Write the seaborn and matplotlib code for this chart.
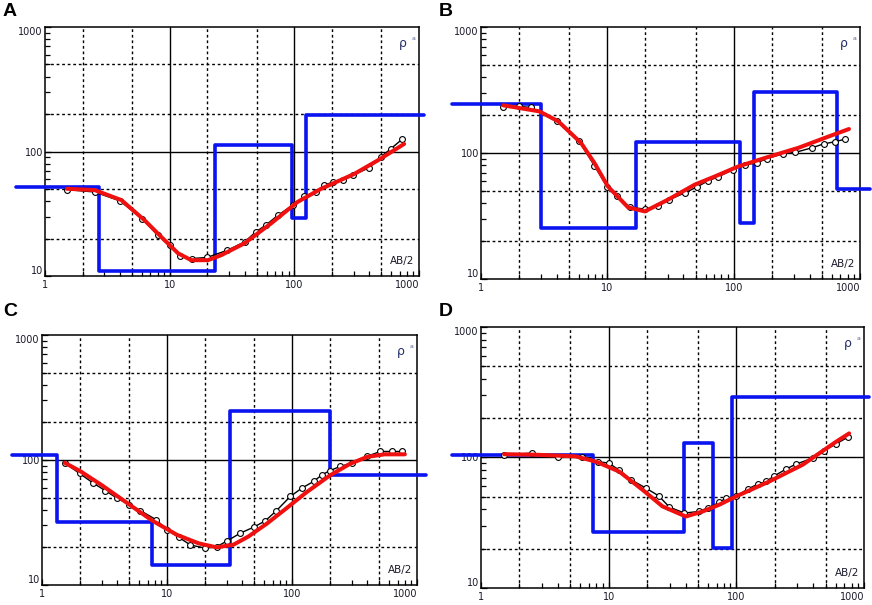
import numpy as np
import pandas as pd
import matplotlib
matplotlib.use("Agg")
import matplotlib.pyplot as plt
import seaborn as sns
from matplotlib.ticker import LogLocator, NullFormatter

# panel A
a_obs_x = [1.5, 2.5, 4, 6, 8, 10, 12, 15, 20, 29, 40, 49, 59, 74, 97, 120, 149,
           174, 203, 244, 293, 398, 493, 593, 736]
a_obs_y = [49.4, 47.3, 40.1, 28.9, 21.3, 17.7, 14.4, 13.8, 14.1, 16.1, 18.8, 22.6,
           25.6, 30.8, 37, 43.6, 47.3, 53.5, 56.9, 58.6, 64.3, 74, 90.2, 105, 126]
a_fit_x = [1.5, 2.5, 4.1, 6.3, 9.1, 11.7, 14.9, 20.3, 25.9, 39.8, 64.9, 106, 163,
           302, 464, 760]
a_fit_y = [50.2, 49, 40.7, 28, 19.4, 15.2, 13.4, 13.4, 14.7, 18.3, 26.4, 39.3, 50,
           66, 84.5, 115]
a_layer_x = [0.59, 2.7, 23, 95, 124, 1100]
a_layer_rho = [52, 11, 112, 29, 196]

# panel B
b_obs_x = [1.5, 2.0, 2.5, 4.0, 6.0, 7.9, 10, 12, 15, 20, 25, 31, 41, 51, 63, 75,
           99, 123, 152, 183, 248, 307, 416, 515, 637, 765]
b_obs_y = [230, 234, 230, 178, 124, 79.3, 53.7, 45.8, 37, 35.9, 37.7, 42.7, 48.2,
           53.7, 60.3, 64.5, 73.8, 80.8, 83.3, 90.2, 98.9, 101, 110, 118, 123, 129]
b_fit_x = [1.5, 2.9, 4.1, 6.2, 7.9, 10.1, 14.6, 19.8, 30.3, 49.2, 71.3, 109, 176,
           326, 562, 818]
b_fit_y = [239, 214, 178, 120, 83.4, 54.3, 37, 34.4, 42.7, 56.1, 65.3, 78.3, 91.2,
           110, 135, 155]
b_layer_x = [0.59, 2.96, 16.8, 112, 145, 657, 1200]
b_layer_rho = [245, 25.4, 122, 27.8, 305, 51.8]

# panel C
c_obs_x = [1.52, 2.0, 2.56, 3.2, 3.98, 5, 6.12, 8.22, 10, 12.4, 15.4, 20.3, 25.1,
           30.2, 38.6, 49.3, 61.2, 75, 97, 120, 149, 174, 200, 244, 302, 398, 509,
           631, 759]
c_obs_y = [94.6, 78, 65.5, 57, 49.5, 44, 39.4, 33.2, 27.6, 24.1, 20.9, 19.7, 20.3,
           22.5, 26, 29, 32.6, 39.3, 51.1, 59.6, 67.4, 76.2, 82, 89, 94.6, 107, 117,
           117, 117]
c_fit_x = [1.52, 2.0, 3.0, 5.0, 7.6, 12, 18, 25, 34, 45, 63, 90, 130, 200, 290,
           400, 550, 800]
c_fit_y = [95, 82, 63, 44, 32.8, 25.2, 21.5, 20, 21, 24.5, 31, 41, 55, 75, 93, 106,
           111, 111]
c_layer_x = [0.575, 1.32, 7.59, 32.1, 200, 1180]
c_layer_rho = [109, 31.8, 14.5, 245, 75.3]

# panel D
d_obs_x = [1.52, 2.49, 3.98, 6.2, 8.2, 10, 12, 15, 19.6, 24.6, 29.9, 39.2, 50.7,
           59.6, 73.6, 83, 99.4, 123, 147, 171, 199, 245, 293, 396, 489, 604, 745]
d_obs_y = [105, 108, 100, 101, 93, 90.6, 80.5, 67.5, 58.2, 50.9, 41.7, 37.5, 38.6,
           41, 45.3, 48.9, 50.3, 57.3, 62.5, 65.5, 72.4, 81.5, 88.9, 98.9, 113, 127,
           143]
d_fit_x = [1.52, 2.7, 5.5, 7.95, 12.1, 18.4, 26.4, 40.2, 54.5, 73.6, 99.4, 181,
           330, 604, 765]
d_fit_y = [106, 105, 102, 93, 78, 56.6, 42.2, 35.3, 38.6, 43.5, 50.3, 65.5, 87.9,
           132, 153]
d_layer_x = [0.59, 7.59, 39.2, 65.3, 91.9, 1100]
d_layer_rho = [105, 26.8, 129, 20.2, 290]

x_ticks = [1, 10, 100, 1000]
y_ticks = [10, 100, 1000]

sns.set_theme(style="white")
plt.rcParams["font.family"] = ["DejaVu Sans"]

W, H = 872, 605
fig = plt.figure(figsize=(W / 100, H / 100), dpi=100)


def px_axes(left, top, right, bottom):
    return fig.add_axes([left / W, 1 - bottom / H, (right - left) / W, (bottom - top) / H])


def draw_panel(ax, obs_x, obs_y, fit_x, fit_y, layer_x, layer_rho):
    ax.set_xscale("log")
    ax.set_yscale("log")

    # grid: solid at decades, dashed at 2 and 5
    for v in [10, 100]:
        ax.axvline(v, color="black", lw=1.0, zorder=1)
    ax.axhline(100, color="black", lw=1.0, zorder=1)
    for v in [2, 5, 20, 50, 200, 500]:
        ax.axvline(v, color="black", lw=1.0, ls=(0, (2, 2)), zorder=1)
    for v in [20, 50, 200, 500]:
        ax.axhline(v, color="black", lw=1.0, ls=(0, (2, 2)), zorder=1)

    # layered model
    steps = pd.DataFrame({"x": layer_x, "rho": layer_rho + [layer_rho[-1]]})
    sns.lineplot(data=steps, x="x", y="rho", ax=ax, color="#0a14f0", lw=2.6,
                 drawstyle="steps-post", estimator=None, sort=False,
                 clip_on=False, zorder=3)

    # observed sounding
    obs = pd.DataFrame({"x": obs_x, "y": obs_y})
    sns.lineplot(data=obs, x="x", y="y", ax=ax, color="black", lw=1.0,
                 marker="o", markersize=4.2, markerfacecolor="white",
                 markeredgecolor="black", markeredgewidth=0.8,
                 estimator=None, sort=False, zorder=4)

    # calculated curve
    fit = pd.DataFrame({"x": fit_x, "y": fit_y})
    sns.lineplot(data=fit, x="x", y="y", ax=ax, color="#f01010", lw=2.9,
                 estimator=None, sort=False, zorder=5)

    ax.set_xlim(1, 1000)
    ax.set_ylim(10, 1000)
    ax.set_xlabel("")
    ax.set_ylabel("")
    ax.set_xticks(x_ticks, [str(v) for v in x_ticks])
    ax.set_yticks(y_ticks, [str(v) for v in y_ticks])
    ax.xaxis.set_minor_locator(LogLocator(base=10, subs=np.arange(2, 10)))
    ax.yaxis.set_minor_locator(LogLocator(base=10, subs=np.arange(2, 10)))
    ax.xaxis.set_minor_formatter(NullFormatter())
    ax.yaxis.set_minor_formatter(NullFormatter())
    ax.set_xlim(1, 1000)
    ax.set_ylim(10, 1000)
    ax.tick_params(which="both", direction="in", left=True, bottom=True,
                   top=False, right=False, color="black", width=0.9)
    ax.tick_params(which="major", length=4)
    ax.tick_params(which="minor", length=3.5)
    ax.tick_params(axis="x", labelsize=7, pad=3, labelcolor="#1a1a2a")
    ax.tick_params(axis="y", labelsize=7, pad=1.5, labelcolor="#1a1a2a")
    ax.get_xticklabels()[-1].set_ha("right")
    ylabs = ax.get_yticklabels()
    ylabs[0].set_va("bottom")
    ylabs[-1].set_va("top")

    for s in ax.spines.values():
        s.set_color("black")
        s.set_linewidth(1.1)

    ax.text(0.958, 0.935, "ρ", transform=ax.transAxes, ha="center", va="center",
            fontsize=9, color="#27306a")
    ax.text(0.985, 0.955, "a", transform=ax.transAxes, ha="center", va="center",
            fontsize=4.5, color="#5a5f90")
    ax.text(0.988, 0.04, "AB/2", transform=ax.transAxes, ha="right", va="bottom",
            fontsize=7.5, color="#1a1a2a")


ax_a = px_axes(45, 27, 419, 276)
ax_b = px_axes(481, 27, 860, 279)
ax_c = px_axes(42, 335, 417, 585)
ax_d = px_axes(481, 327, 864, 588)

draw_panel(ax_a, a_obs_x, a_obs_y, a_fit_x, a_fit_y, a_layer_x, a_layer_rho)
draw_panel(ax_b, b_obs_x, b_obs_y, b_fit_x, b_fit_y, b_layer_x, b_layer_rho)
draw_panel(ax_c, c_obs_x, c_obs_y, c_fit_x, c_fit_y, c_layer_x, c_layer_rho)
draw_panel(ax_d, d_obs_x, d_obs_y, d_fit_x, d_fit_y, d_layer_x, d_layer_rho)

for label, (x, y) in zip("ABCD", [(3, 3), (439, 3), (3, 303), (439, 303)]):
    fig.text(x / W, 1 - y / H, label, ha="left", va="top", fontsize=14,
             fontweight="bold", family="Liberation Sans", color="black")

fig.savefig("out.png", dpi=100)
